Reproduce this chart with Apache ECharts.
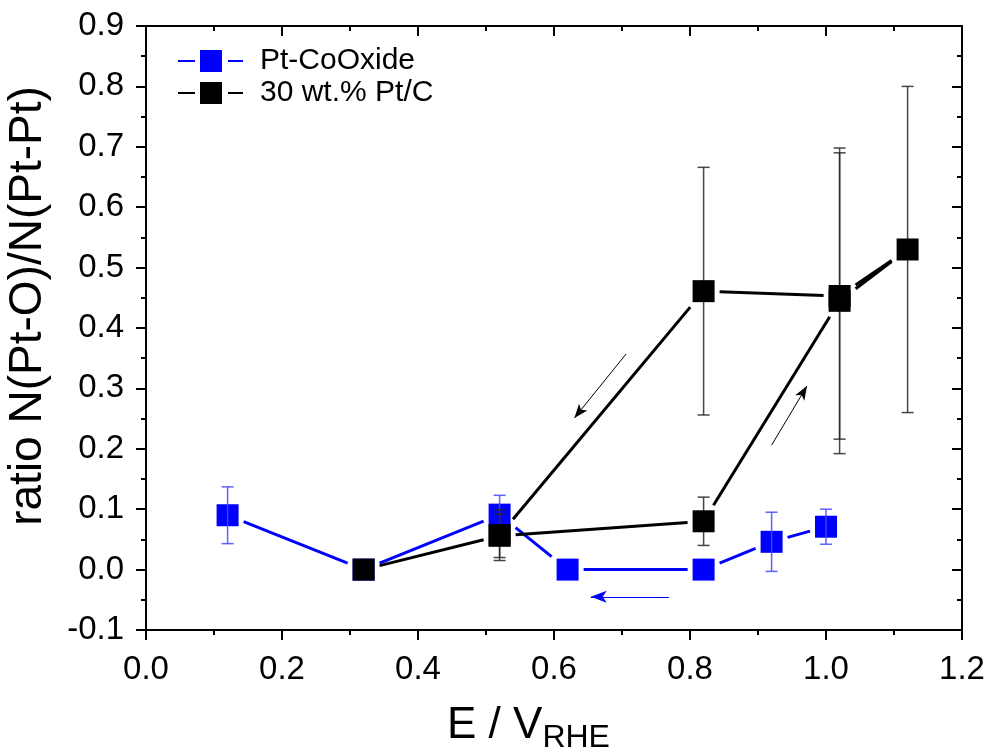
<!DOCTYPE html>
<html>
<head>
<meta charset="utf-8">
<script src="https://cdn.jsdelivr.net/npm/echarts@6/dist/echarts.min.js"></script>
<style>
html,body{margin:0;padding:0;background:#fff;}
#chart{width:988px;height:755px;}
</style>
</head>
<body>
<div id="chart"></div>
<script>
// ---- data ----
var seriesNames = ['Pt-CoOxide', '30 wt.% Pt/C'];
var blueX   = [0.12, 0.32, 0.52, 0.62, 0.82, 0.92, 1.00];
var blueY   = [0.090, 0.000, 0.091, 0.000, 0.000, 0.046, 0.071];
var blueErr = [0.047, 0, 0.032, 0, 0, 0.049, 0.029];
var blackX   = [0.32, 0.52, 0.82, 1.02, 1.12, 1.02, 0.82, 0.52];
var blackY   = [0.000, 0.056, 0.080, 0.445, 0.530, 0.453, 0.461, 0.057];
var blackErr = [0, 0.036, 0.040, 0.253, 0.270, 0.237, 0.205, 0.042];
var xTicks = [0.0, 0.2, 0.4, 0.6, 0.8, 1.0, 1.2];
var yTicks = [-0.1, 0.0, 0.1, 0.2, 0.3, 0.4, 0.5, 0.6, 0.7, 0.8, 0.9];
// direction arrows [x1, y1, x2, y2]
var arrowDown = [0.706, 0.357, 0.630, 0.251];
var arrowUp   = [0.920, 0.206, 0.972, 0.304];
var arrowBlue = [0.769, -0.045, 0.654, -0.045];

var FONT = '"Liberation Sans", Arial, "DejaVu Sans", sans-serif';

function zip(xs, ys) { return xs.map(function (x, i) { return [x, ys[i]]; }); }
function zip3(xs, ys, es) { return xs.map(function (x, i) { return [x, ys[i], es[i]]; }); }
function segments(xs, ys) {
  var out = [];
  for (var i = 1; i < xs.length; i++) out.push([xs[i - 1], ys[i - 1], xs[i], ys[i]]);
  return out;
}

function errRender(color) {
  return function (params, api) {
    var x = api.value(0), y = api.value(1), e = api.value(2);
    if (!e) return null;
    var top = api.coord([x, y + e]);
    var bot = api.coord([x, y - e]);
    var hw = 6;
    var st = { stroke: color, lineWidth: 1.5 };
    return {
      type: 'group',
      children: [
        { type: 'line', shape: { x1: top[0], y1: top[1], x2: bot[0], y2: bot[1] }, style: st },
        { type: 'line', shape: { x1: top[0] - hw, y1: top[1], x2: top[0] + hw, y2: top[1] }, style: st },
        { type: 'line', shape: { x1: bot[0] - hw, y1: bot[1], x2: bot[0] + hw, y2: bot[1] }, style: st }
      ]
    };
  };
}

// connecting segments that stop short of the square markers (gap like the original)
function segRender(color) {
  return function (params, api) {
    var p1 = api.coord([api.value(0), api.value(1)]);
    var p2 = api.coord([api.value(2), api.value(3)]);
    var dx = p2[0] - p1[0], dy = p2[1] - p1[1];
    var len = Math.sqrt(dx * dx + dy * dy);
    if (len < 1) return null;
    var ux = dx / len, uy = dy / len;
    var d = 16 / Math.max(Math.abs(ux), Math.abs(uy));
    if (2 * d >= len) return null;
    return {
      type: 'line',
      shape: { x1: p1[0] + ux * d, y1: p1[1] + uy * d, x2: p2[0] - ux * d, y2: p2[1] - uy * d },
      style: { stroke: color, lineWidth: 3, lineCap: 'butt' }
    };
  };
}

var legendIcon = 'path://M0,10 h17 v2 h-17 z M22,0 h22 v22 h-22 z M50,10 h15 v2 h-15 z';

var tickStyle = { color: '#000', width: 2 };
var axisCommonX = {
  type: 'value', min: 0, max: 1.2, interval: 0.2,
  axisLine: { onZero: false, lineStyle: { color: '#000', width: 2 } },
  splitLine: { show: false }
};
var axisCommonY = {
  type: 'value', min: -0.1, max: 0.9, interval: 0.1,
  axisLine: { onZero: false, lineStyle: { color: '#000', width: 2 } },
  splitLine: { show: false }
};

var option = {
  animation: false,
  backgroundColor: '#fff',
  grid: { left: 146, top: 26, right: 26, bottom: 125, containLabel: false, outerBoundsMode: 'none' },
  legend: {
    orient: 'vertical',
    left: 173, top: 41,
    itemWidth: 65, itemHeight: 22, itemGap: 2,
    selectedMode: false,
    textStyle: { fontFamily: FONT, fontSize: 30, color: '#000', padding: [0, 0, 0, 12] },
    data: [
      { name: seriesNames[0], icon: legendIcon },
      { name: seriesNames[1], icon: legendIcon }
    ]
  },
  xAxis: [
    Object.assign({}, axisCommonX, {
      position: 'bottom',
      name: '{a|E / V}{b|RHE}',
      nameLocation: 'middle',
      nameGap: 74,
      nameTextStyle: {
        rich: {
          a: { fontFamily: FONT, fontSize: 44, color: '#000', verticalAlign: 'top', lineHeight: 50 },
          b: { fontFamily: FONT, fontSize: 32, color: '#000', verticalAlign: 'bottom', lineHeight: 32, padding: [30, 51, 0, 0] }
        }
      },
      axisTick: { show: true, inside: false, length: 10, lineStyle: tickStyle },
      minorTick: { show: true, splitNumber: 2, length: 5, lineStyle: tickStyle },
      axisLabel: {
        margin: 23, color: '#000', fontFamily: FONT, fontSize: 33,
        formatter: function (v) { return v.toFixed(1); }
      }
    }),
    Object.assign({}, axisCommonX, {
      position: 'top',
      axisTick: { show: true, inside: true, length: 10, lineStyle: tickStyle },
      minorTick: { show: true, splitNumber: 2, length: 5, lineStyle: tickStyle },
      axisLabel: { show: false }
    })
  ],
  yAxis: [
    Object.assign({}, axisCommonY, {
      position: 'left',
      name: 'ratio N(Pt-O)/N(Pt-Pt)',
      nameLocation: 'middle',
      nameGap: 95,
      nameTextStyle: { fontFamily: FONT, fontSize: 46, color: '#000', padding: [0, 0, 0, 44] },
      axisTick: { show: true, inside: false, length: 10, lineStyle: tickStyle },
      minorTick: { show: true, splitNumber: 2, length: 5, lineStyle: tickStyle },
      axisLabel: {
        margin: 22, color: '#000', fontFamily: FONT, fontSize: 33,
        formatter: function (v) { return v.toFixed(1); }
      }
    }),
    Object.assign({}, axisCommonY, {
      position: 'right',
      axisTick: { show: true, inside: true, length: 10, lineStyle: tickStyle },
      minorTick: { show: true, splitNumber: 2, length: 5, lineStyle: tickStyle },
      axisLabel: { show: false }
    })
  ],
  series: [
    {
      name: 'blueLine',
      type: 'custom',
      z: 2, silent: true,
      data: segments(blueX, blueY),
      renderItem: segRender('#0000ff')
    },
    {
      name: seriesNames[0],
      type: 'scatter',
      z: 2,
      data: zip(blueX, blueY),
      symbol: 'rect', symbolSize: 22,
      itemStyle: { color: '#0000ff', opacity: 1 },
      emphasis: { disabled: true },
      markLine: {
        silent: true, animation: false,
        symbol: ['none', 'arrow'], symbolSize: [9, 16],
        label: { show: false },
        lineStyle: { color: '#0000ff', width: 1, type: 'solid' },
        emphasis: { disabled: true },
        data: [[{ coord: [arrowBlue[0], arrowBlue[1]] }, { coord: [arrowBlue[2], arrowBlue[3]] }]]
      }
    },
    {
      name: 'blueErr',
      type: 'custom',
      z: 3, silent: true,
      data: zip3(blueX, blueY, blueErr),
      renderItem: errRender('rgba(70,70,255,0.85)')
    },
    {
      name: 'blackErr',
      type: 'custom',
      z: 4, silent: true,
      data: zip3(blackX, blackY, blackErr),
      renderItem: errRender('rgba(40,40,40,0.85)')
    },
    {
      name: 'blackLine',
      type: 'custom',
      z: 5, silent: true,
      data: segments(blackX, blackY),
      renderItem: segRender('#000000')
    },
    {
      name: seriesNames[1],
      type: 'scatter',
      z: 5,
      data: zip(blackX, blackY),
      symbol: 'rect', symbolSize: 22,
      itemStyle: { color: '#000000', opacity: 1 },
      emphasis: { disabled: true },
      markLine: {
        silent: true, animation: false,
        symbol: ['none', 'arrow'], symbolSize: [8, 14],
        label: { show: false },
        lineStyle: { color: '#000', width: 1, type: 'solid' },
        emphasis: { disabled: true },
        data: [
          [{ coord: [arrowDown[0], arrowDown[1]] }, { coord: [arrowDown[2], arrowDown[3]] }],
          [{ coord: [arrowUp[0], arrowUp[1]] }, { coord: [arrowUp[2], arrowUp[3]] }]
        ]
      }
    }
  ]
};

var chart = echarts.init(document.getElementById('chart'), null, { renderer: 'canvas' });
chart.setOption(option);
</script>
</body>
</html>
